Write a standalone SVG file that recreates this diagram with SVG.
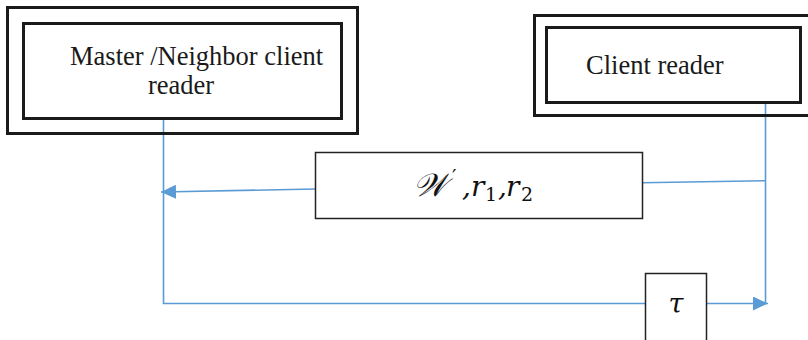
<svg xmlns="http://www.w3.org/2000/svg" width="808" height="340" viewBox="0 0 808 340">
<defs>
<style>
.frame{fill:none;stroke:#1a1a1a;stroke-width:3}
.box{fill:#fff;stroke:#222;stroke-width:1.5}
.lbl{font-family:"Liberation Serif","Times New Roman",serif;font-size:26.5px;fill:#1a1a1a}
.math{font-family:"DejaVu Serif","Liberation Serif",serif;font-style:italic;fill:#111}
.conn{fill:none;stroke:#5B9BD5;stroke-width:1.6}
</style>
<marker id="arr" viewBox="0 0 15 14" refX="15" refY="7" markerWidth="15" markerHeight="14" markerUnits="userSpaceOnUse" orient="auto">
<path d="M0,0 L15,7 L0,14 Z" fill="#5B9BD5"/>
</marker>
</defs>
<rect width="808" height="340" fill="#fff"/>
<g id="connectors">
<path class="conn" d="M163.5,119 V303.5 H645"/>
<path class="conn" d="M707,303.5 H768" marker-end="url(#arr)"/>
<path class="conn" d="M765.5,103 V303.5"/>
<path class="conn" d="M765.5,180.7 L642,182.7"/>
<path class="conn" d="M315,189 L161,192" marker-end="url(#arr)"/>
</g>
<g id="master">
<rect class="frame" x="7.5" y="7.5" width="350" height="126"/>
<rect class="frame" x="23.5" y="23.5" width="318" height="95"/>
<text class="lbl" x="70" y="65">Master /Neighbor client</text>
<text class="lbl" x="148" y="94">reader</text>
</g>
<g id="client">
<rect class="frame" x="534.5" y="15.5" width="280" height="100"/>
<rect class="frame" x="546.5" y="27.5" width="254" height="75"/>
<text class="lbl" x="586" y="74">Client reader</text>
</g>
<g id="params">
<rect class="box" x="315.5" y="152.5" width="327" height="66"/>
<text class="math" y="196" font-size="28"><tspan x="413" font-size="32">𝒲</tspan><tspan x="452" dy="-12" font-style="normal" font-size="20">′</tspan><tspan x="462" dy="12">,</tspan><tspan x="471">r</tspan><tspan x="485" dy="5" font-style="normal" font-size="19">1</tspan><tspan x="498" dy="-5">,</tspan><tspan x="506">r</tspan><tspan x="521" dy="5" font-style="normal" font-size="19">2</tspan></text>
</g>
<g id="tau">
<rect class="box" x="645.5" y="273.5" width="61" height="80"/>
<text class="math" x="676" y="313" font-size="27" text-anchor="middle">τ</text>
</g>
</svg>
